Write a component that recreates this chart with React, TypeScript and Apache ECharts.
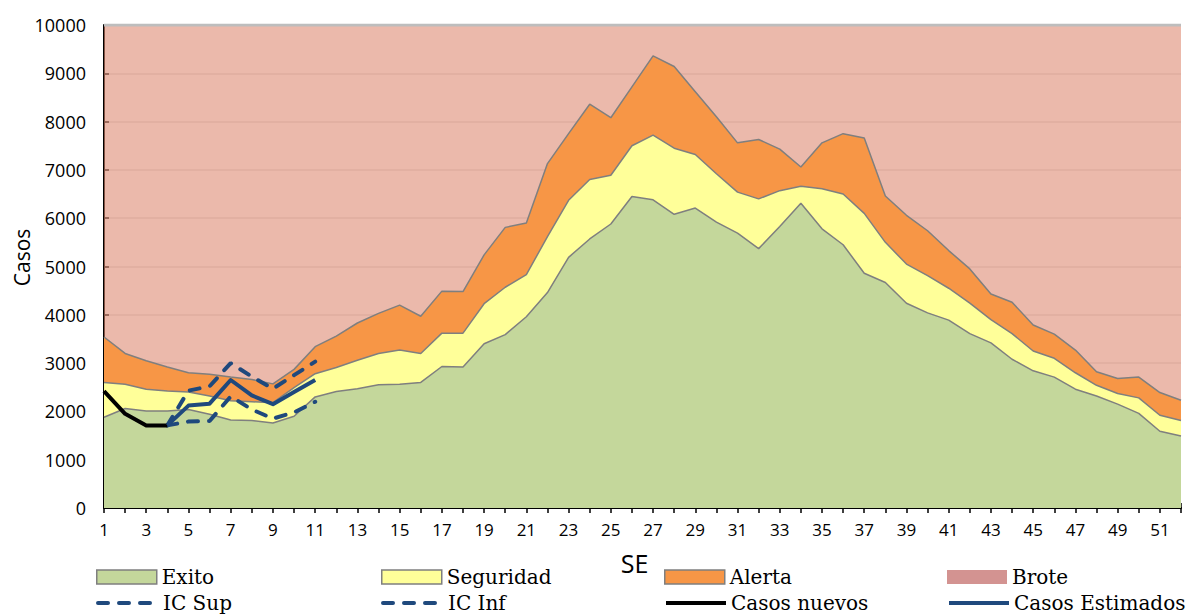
import React, { useEffect, useRef } from "react";
import * as echarts from "echarts";

const weeks = [
  "1", "2", "3", "4", "5", "6", "7", "8", "9", "10", "11", "12", "13",
  "14", "15", "16", "17", "18", "19", "20", "21", "22", "23", "24", "25", "26",
  "27", "28", "29", "30", "31", "32", "33", "34", "35", "36", "37", "38", "39",
  "40", "41", "42", "43", "44", "45", "46", "47", "48", "49", "50", "51", "52",
];

// Upper boundary of each zone (cases)
const exito = [
  1880, 2060, 2010, 2010, 2040, 1940, 1820, 1810, 1760, 1900, 2300, 2410, 2470,
  2550, 2560, 2600, 2930, 2920, 3400, 3590, 3960, 4460, 5190, 5570, 5880, 6450,
  6380, 6080, 6210, 5920, 5690, 5370, 5830, 6310, 5780, 5450, 4860, 4670, 4240,
  4040, 3890, 3610, 3420, 3080, 2840, 2710, 2460, 2320, 2150, 1960, 1590, 1490,
];
const seguridad = [
  2600, 2560, 2460, 2420, 2400, 2320, 2220, 2200, 2180, 2490, 2780, 2910, 3060,
  3200, 3270, 3200, 3620, 3620, 4230, 4570, 4830, 5620, 6370, 6800, 6890, 7500,
  7720, 7450, 7320, 6920, 6540, 6400, 6570, 6660, 6610, 6500, 6100, 5500, 5050,
  4810, 4550, 4240, 3900, 3610, 3250, 3100, 2800, 2540, 2370, 2280, 1920, 1810,
];
const alerta = [
  3540, 3200, 3050, 2920, 2800, 2770, 2710, 2660, 2570, 2870, 3340, 3560, 3830,
  4030, 4200, 3970, 4490, 4480, 5240, 5810, 5900, 7130, 7750, 8360, 8080, 8720,
  9360, 9140, 8620, 8100, 7560, 7630, 7430, 7060, 7560, 7750, 7660, 6460, 6060,
  5740, 5330, 4950, 4430, 4260, 3790, 3600, 3270, 2820, 2680, 2710, 2390, 2230,
];
const brote = [
  10000, 10000, 10000, 10000, 10000, 10000, 10000, 10000, 10000, 10000, 10000, 10000, 10000,
  10000, 10000, 10000, 10000, 10000, 10000, 10000, 10000, 10000, 10000, 10000, 10000, 10000,
  10000, 10000, 10000, 10000, 10000, 10000, 10000, 10000, 10000, 10000, 10000, 10000, 10000,
  10000, 10000, 10000, 10000, 10000, 10000, 10000, 10000, 10000, 10000, 10000, 10000, 10000,
];

const casosNuevos = [2420, 1950, 1710, 1710];
const casosEstimados = [null, null, null, 1710, 2120, 2160, 2650, 2330, 2150, 2400, 2650];
const icSup = [null, null, null, 1710, 2430, 2520, 3000, 2720, 2470, 2750, 3030];
const icInf = [null, null, null, 1710, 1790, 1800, 2310, 2040, 1850, 1980, 2200];

const yTicks = { min: 0, max: 10000, interval: 1000 };

const C_EXITO = "#C4D79B";
const C_SEG = "#FFFF99";
const C_ALERTA = "#F79646";
const C_BROTE_FILL = "rgba(222,138,115,0.6)";
const C_BROTE_LEG = "#D39391";
const C_BLUE = "#1F497D";
const BORDER = "#7F7F7F";
const SANS = "Open Sans";

export default function App() {
  const ref = useRef<HTMLDivElement>(null);
  useEffect(() => {
    if (!ref.current) return;
    const chart = echarts.init(ref.current, null, { renderer: "svg" });
    const areaSeries = (name: string, data: number[], color: string) => ({
      name,
      type: "line",
      data,
      symbol: "none",
      lineStyle: { color: BORDER, width: 1.5 },
      areaStyle: { color, opacity: 1 },
      itemStyle: { color },
      z: 2,
    });
    const lineSeries = (name: string, data: (number | null)[], color: string, dashed: boolean) => ({
      name,
      type: "line",
      data,
      symbol: "none",
      connectNulls: false,
      lineStyle: dashed
        ? { color, width: 4, type: [10, 11], cap: "round" }
        : { color, width: 4, cap: "butt", join: "round" },
      itemStyle: { color },
      z: 5,
    });
    const legendBase = {
      orient: "horizontal",
      padding: 0,
      itemWidth: 60,
      itemHeight: 14,
      itemGap: 0,
      textStyle: { fontFamily: "DejaVu Serif", fontSize: 20, color: "#000" },
      lineStyle: { width: 4 },
    };
    const rectItem = (name: string, color: string, border: boolean) => ({
      name,
      icon: "rect",
      itemStyle: border
        ? { color, borderColor: BORDER, borderWidth: 1.5 }
        : { color, borderWidth: 0 },
    });
    const lineItem = (name: string) => ({ name, itemStyle: { opacity: 0 } });
    const row1 = 567;
    const row2 = 593;
    const option = {
      animation: false,
      grid: {
        left: 104,
        right: 6,
        top: 25,
        bottom: 107,
        containLabel: false,
        outerBoundsMode: "none",
      },
      legend: [
        { ...legendBase, left: 96, top: row1, data: [rectItem("Exito", C_EXITO, true)] },
        { ...legendBase, left: 381, top: row1, data: [rectItem("Seguridad", C_SEG, true)] },
        { ...legendBase, left: 664, top: row1, data: [rectItem("Alerta", C_ALERTA, true)] },
        { ...legendBase, left: 947, top: row1, data: [rectItem("Brote", C_BROTE_LEG, false)] },
        { ...legendBase, left: 96, top: row2, data: [lineItem("IC Sup")] },
        { ...legendBase, left: 381, top: row2, data: [lineItem("IC Inf")] },
        { ...legendBase, left: 664, top: row2, data: [lineItem("Casos nuevos")] },
        { ...legendBase, left: 947, top: row2, data: [lineItem("Casos Estimados")] },
      ],
      xAxis: [
        {
          type: "category",
          data: weeks,
          boundaryGap: false,
          name: "SE",
          nameLocation: "middle",
          nameGap: 42,
          nameMoveOverlap: false,
          nameTextStyle: { fontFamily: SANS, fontSize: 25, color: "#000", padding: [0, 16, 0, 0] },
          axisLine: { show: true, lineStyle: { color: "#000", width: 2 } },
          axisTick: { show: true, interval: 0, length: 5, lineStyle: { color: "#000", width: 1.5 } },
          axisLabel: { interval: 1, margin: 13, fontFamily: SANS, fontSize: 17, color: "#000" },
          splitLine: { show: false },
        },
        {
          type: "category",
          data: weeks,
          boundaryGap: false,
          position: "bottom",
          axisLine: { show: false },
          axisTick: { show: true, inside: true, interval: 0, length: 5, lineStyle: { color: "#000", width: 1.5 } },
          axisLabel: { show: false },
          splitLine: { show: false },
        },
      ],
      yAxis: {
        type: "value",
        ...yTicks,
        name: "Casos",
        nameLocation: "middle",
        nameGap: 72,
        nameMoveOverlap: false,
        nameTextStyle: { fontFamily: SANS, fontSize: 21, color: "#000", padding: [0, 0, 0, 18] },
        axisLine: { show: true, lineStyle: { color: "#000", width: 2 } },
        axisTick: { show: true, inside: true, length: 5, lineStyle: { color: "#000", width: 1.5 } },
        axisLabel: {
          margin: 18,
          fontFamily: SANS,
          fontSize: 18,
          color: "#000",
          formatter: (v: number) => String(v),
        },
        splitLine: { show: true, lineStyle: { color: "#E0E0E0", width: 1.5 } },
      },
      series: [
        {
          ...areaSeries("Brote", brote, C_BROTE_FILL),
          lineStyle: { color: "#BDBDBD", width: 3 },
          itemStyle: { color: C_BROTE_LEG },
          z: 1,
        },
        areaSeries("Alerta", alerta, C_ALERTA),
        areaSeries("Seguridad", seguridad, C_SEG),
        areaSeries("Exito", exito, C_EXITO),
        lineSeries("IC Sup", icSup, C_BLUE, true),
        lineSeries("IC Inf", icInf, C_BLUE, true),
        lineSeries("Casos nuevos", casosNuevos, "#000", false),
        lineSeries("Casos Estimados", casosEstimados, C_BLUE, false),
      ],
    };
    chart.setOption(option as any);
    return () => chart.dispose();
  }, []);
  return (
    <div
      ref={ref}
      style={{ position: "fixed", left: 0, top: 0, width: 1187, height: 615, background: "#fff" }}
    />
  );
}
